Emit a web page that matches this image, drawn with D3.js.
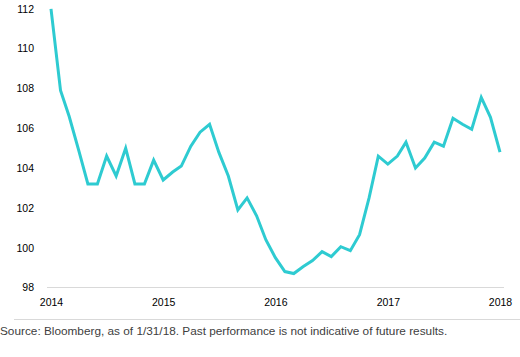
<!DOCTYPE html>
<html>
<head>
<meta charset="utf-8">
<script src="https://cdn.jsdelivr.net/npm/d3@7"></script>
<style>
  html, body { margin: 0; padding: 0; background: #fff; }
  svg { display: block; }
</style>
</head>
<body>
<svg id="chart" width="520" height="357"></svg>
<script>
const years = [2014, 2015, 2016, 2017, 2018];
const yTicks = [98, 100, 102, 104, 106, 108, 110, 112];
const values = [
  112.0, 107.9, 106.6, 104.9, 103.2, 103.2, 104.6, 103.6, 105.0, 103.2, 103.2, 104.4,
  103.4, 103.8, 104.1, 105.1, 105.8, 106.2, 104.8, 103.6, 101.9, 102.5, 101.6, 100.4,
  99.5, 98.8, 98.7, 99.05, 99.35, 99.8, 99.55, 100.05, 99.85, 100.65, 102.5, 104.6,
  104.2, 104.6, 105.3, 104.0, 104.5, 105.3, 105.1, 106.5, 106.2, 105.95, 107.55, 106.55,
  104.8
];
const dates = values.map((v, i) => new Date(2014, i, 1));
const sourceText = "Source: Bloomberg, as of 1/31/18. Past performance is not indicative of future results.";

const svg = d3.select("#chart");
const x = d3.scaleTime().domain([new Date(2014, 0, 1), new Date(2018, 0, 1)]).range([51, 500]);
const y = d3.scaleLinear().domain([98, 112]).range([287.5, 8.8]);

// baseline
svg.append("line")
  .attr("x1", 47).attr("x2", 504)
  .attr("y1", y(98)).attr("y2", y(98))
  .attr("stroke", "#d9d9d9").attr("stroke-width", 1);

// y axis labels
const yAxis = d3.axisLeft(y).tickValues(yTicks).tickSize(0).tickPadding(0).tickFormat(d3.format("d"));
const gy = svg.append("g").attr("transform", "translate(34,0)").call(yAxis);
gy.select(".domain").remove();
gy.selectAll("text")
  .attr("font-family", "Liberation Sans, Arial, sans-serif")
  .attr("font-size", "10.5px")
  .attr("fill", "#000");

// x axis labels
const xAxis = d3.axisBottom(x).tickValues(years.map(yr => new Date(yr, 0, 1))).tickSize(0).tickPadding(0).tickFormat(d3.timeFormat("%Y"));
const gx = svg.append("g").attr("transform", "translate(0,298.5)").call(xAxis);
gx.select(".domain").remove();
gx.selectAll("text")
  .attr("font-family", "Liberation Sans, Arial, sans-serif")
  .attr("font-size", "10.5px")
  .attr("fill", "#000");

// line
const line = d3.line().x((d, i) => x(dates[i])).y(d => y(d));
svg.append("path")
  .datum(values)
  .attr("d", line)
  .attr("fill", "none")
  .attr("stroke", "#2ecbd1")
  .attr("stroke-width", 3)
  .attr("stroke-linejoin", "miter");

// separator
svg.append("line")
  .attr("x1", 14).attr("x2", 520)
  .attr("y1", 319.5).attr("y2", 319.5)
  .attr("stroke", "#d9d9d9").attr("stroke-width", 1);

// source
svg.append("text")
  .attr("x", 0).attr("y", 334.5)
  .attr("font-family", "Liberation Sans, Arial, sans-serif")
  .attr("font-size", "11.8px")
  .attr("fill", "#404040")
  .text(sourceText);
</script>
</body>
</html>
